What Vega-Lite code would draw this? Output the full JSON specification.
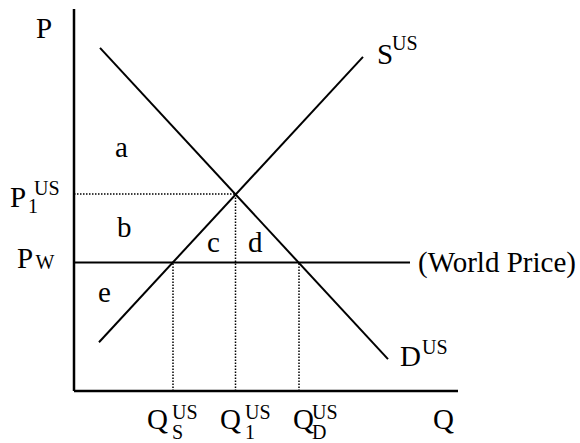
{
  "$schema": "https://vega.github.io/schema/vega-lite/v6.json",
  "width": 580,
  "height": 443,
  "padding": 0,
  "autosize": {"type": "fit", "contains": "padding"},
  "background": "white",
  "config": {"view": {"stroke": null}},
  "datasets": {
    "axes": [
      {"name": "P axis", "q1": 0, "p1": 0, "q2": 0, "p2": 38.3},
      {"name": "Q axis", "q1": 0, "p1": 0, "q2": 38.4, "p2": 0}
    ],
    "curves": [
      {"name": "Demand", "q1": 2.6, "p1": 34.4, "q2": 31.4, "p2": 3.2},
      {"name": "Supply", "q1": 2.5, "p1": 4.9, "q2": 28.9, "p2": 33.5},
      {"name": "World price", "q1": 0, "p1": 12.9, "q2": 33.6, "p2": 12.9}
    ],
    "guides": [
      {"name": "P1", "q1": 0, "p1": 19.75, "q2": 16.15, "p2": 19.75},
      {"name": "QS", "q1": 9.9, "p1": 0, "q2": 9.9, "p2": 12.9},
      {"name": "Q1", "q1": 16.15, "p1": 0, "q2": 16.15, "p2": 19.75},
      {"name": "QD", "q1": 22.5, "p1": 0, "q2": 22.5, "p2": 12.9}
    ],
    "bigText": [
      {"q": -3.8, "p": 35.4, "t": "P"},
      {"q": 35.9, "p": -3.8, "t": "Q"},
      {"q": 4.1, "p": 23.5, "t": "a"},
      {"q": 4.3, "p": 15.4, "t": "b"},
      {"q": 13.3, "p": 13.9, "t": "c"},
      {"q": 17.4, "p": 13.9, "t": "d"},
      {"q": 2.4, "p": 8.9, "t": "e"},
      {"q": -6.4, "p": 18.5, "t": "P"},
      {"q": -5.7, "p": 12.3, "t": "P"},
      {"q": 7.3, "p": -3.8, "t": "Q"},
      {"q": 14.6, "p": -3.8, "t": "Q"},
      {"q": 21.9, "p": -3.8, "t": "Q"},
      {"q": 30.3, "p": 32.8, "t": "S"},
      {"q": 32.6, "p": 2.5, "t": "D"},
      {"q": 34.4, "p": 11.9, "t": "(World Price)"}
    ],
    "smallText": [
      {"q": -4.6, "p": 17.9, "t": "1"},
      {"q": -4.0, "p": 19.7, "t": "US"},
      {"q": -3.85, "p": 12.2, "t": "W"},
      {"q": 9.8, "p": -4.8, "t": "S"},
      {"q": 9.8, "p": -2.8, "t": "US"},
      {"q": 17.1, "p": -4.8, "t": "1"},
      {"q": 17.1, "p": -2.8, "t": "US"},
      {"q": 23.8, "p": -4.8, "t": "D"},
      {"q": 23.8, "p": -2.8, "t": "US"},
      {"q": 31.8, "p": 34.2, "t": "US"},
      {"q": 34.8, "p": 3.7, "t": "US"}
    ]
  },
  "encoding": {
    "x": {"field": "q1", "type": "quantitative", "scale": {"domain": [-7.4, 50.6], "nice": false, "zero": false}, "axis": null},
    "y": {"field": "p1", "type": "quantitative", "scale": {"domain": [-5.1, 39.2], "nice": false, "zero": false}, "axis": null}
  },
  "layer": [
    {
      "data": {"name": "axes"},
      "mark": {"type": "rule", "color": "black", "strokeWidth": 2.5},
      "encoding": {"x2": {"field": "q2"}, "y2": {"field": "p2"}}
    },
    {
      "data": {"name": "curves"},
      "mark": {"type": "rule", "color": "black", "strokeWidth": 2},
      "encoding": {"x2": {"field": "q2"}, "y2": {"field": "p2"}}
    },
    {
      "data": {"name": "guides"},
      "mark": {"type": "rule", "color": "black", "strokeWidth": 1.5, "strokeDash": [1.5, 1.5]},
      "encoding": {"x2": {"field": "q2"}, "y2": {"field": "p2"}}
    },
    {
      "data": {"name": "bigText"},
      "mark": {"type": "text", "font": "Liberation Serif", "fontSize": 29, "align": "left", "baseline": "alphabetic", "color": "black"},
      "encoding": {
        "x": {"field": "q", "type": "quantitative"},
        "y": {"field": "p", "type": "quantitative"},
        "text": {"field": "t"}
      }
    },
    {
      "data": {"name": "smallText"},
      "mark": {"type": "text", "font": "Liberation Serif", "fontSize": 20, "align": "left", "baseline": "alphabetic", "color": "black"},
      "encoding": {
        "x": {"field": "q", "type": "quantitative"},
        "y": {"field": "p", "type": "quantitative"},
        "text": {"field": "t"}
      }
    }
  ]
}
